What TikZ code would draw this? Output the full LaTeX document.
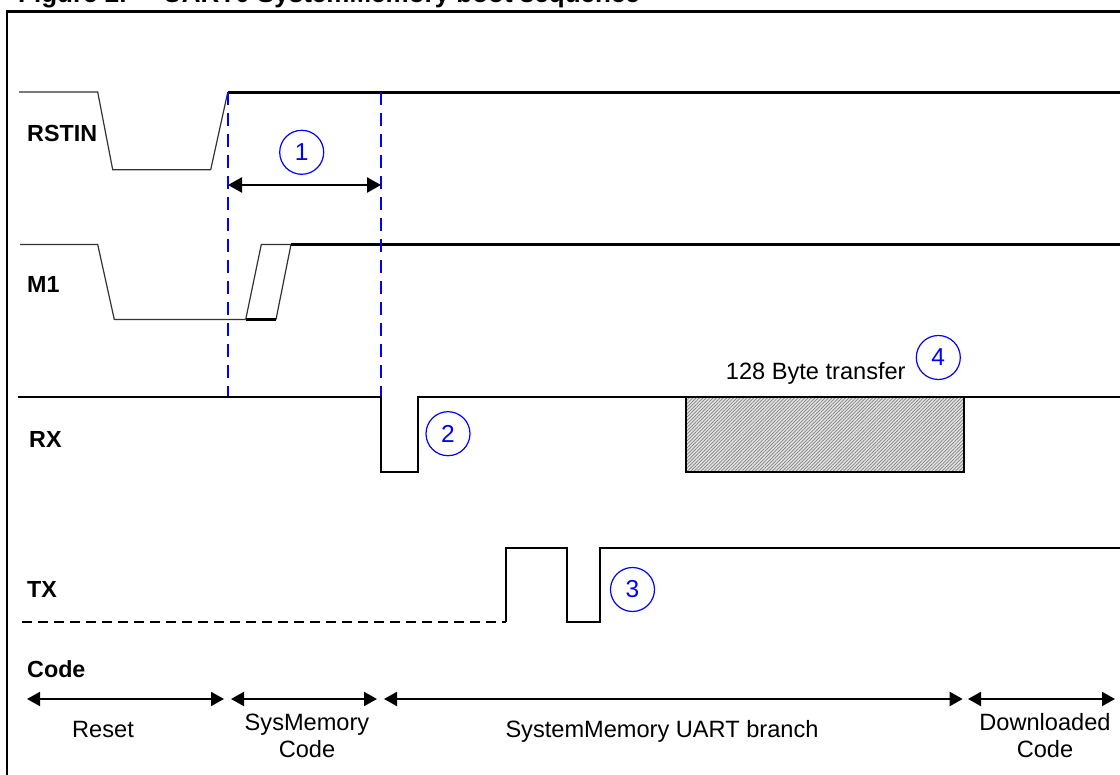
\documentclass[tikz,border=0pt]{standalone}
\usepackage{fontspec}
\setmainfont{Liberation Sans}
\usetikzlibrary{arrows.meta,patterns.meta}
\begin{document}
\begin{tikzpicture}[x=1pt,y=-1pt,
  thinw/.style={line width=1.2pt,draw=black!80},
  thickw/.style={line width=2.3pt,draw=black},
  guide/.style={line width=2pt,draw=blue,dash pattern=on 13pt off 8pt},
  numc/.style={circle,draw=blue,line width=1.2pt,minimum size=44pt,inner sep=0pt,text=blue,font=\fontsize{24.5}{28}\selectfont},
  siglabel/.style={anchor=base west,font=\fontsize{23.3}{28}\selectfont\bfseries,inner sep=0pt},
  txt/.style={font=\fontsize{23.6}{26.6}\selectfont,inner sep=0pt},
  span/.style={line width=2pt,{Triangle[length=13pt,width=14pt]}-{Triangle[length=13pt,width=14pt]}},
  dim/.style={line width=2.5pt,{Triangle[length=14pt,width=15pt]}-{Triangle[length=14pt,width=15pt]}}
]
\useasboundingbox (0,0) rectangle (1120,775);
\clip (0,0) rectangle (1120,775);

% title (cut at the top edge, as in the reference)
\node[anchor=base west,inner sep=0pt,font=\fontsize{26}{30}\selectfont\bfseries] (title1) at (18,2.5) {Figure 2.};
\node[anchor=base west,inner sep=0pt,font=\fontsize{26}{30}\selectfont\bfseries] (title2) at (163,2.5) {UART0 SystemMemory boot sequence};

% frame
\draw[line width=2.5pt] (7,800) -- (7,11.5) -- (1140,11.5);

% signal labels
\node[siglabel] (lrst) at (27,141.7) {RSTIN};
\node[siglabel] (lm1) at (27,292.7) {M1};
\node[siglabel] (lrx) at (29,448) {RX};
\node[siglabel] (ltx) at (27,597) {TX};
\node[siglabel] (lcode) at (27,677) {Code};

% RSTIN
\draw[thinw] (19,92) -- (97.7,92) -- (112.7,169.7) -- (210.7,169.7) -- (227.7,92.5);
\draw[thickw] (227.7,92.5) -- (1140,92.5);

% M1
\draw[thinw] (20,244.5) -- (97.7,244.5) -- (114.3,319.5) -- (245.7,319.5);
\draw[thinw] (245.7,319.5) -- (261.3,244.5) -- (291,244.5);
\draw[thinw] (276,319.5) -- (291,244.5);
\draw[thickw] (245.7,319.5) -- (276,319.5);
\draw[thickw] (291,244.5) -- (1140,244.5);

% blue guides
\coordinate (g1t) at (228,92);
\coordinate (g1b) at (228,397);
\coordinate (g2t) at (381,92);
\coordinate (g2b) at (381,397);
\draw[guide] (g1t) -- (g1b);
\draw[guide] (g2t) -- (g2b);

% interval 1
\coordinate (d1a) at (228,185);
\coordinate (d1b) at (381,185);
\draw[dim] (d1a) -- (d1b);
\node[numc] (c1) at (301.7,152.3) {1};

% RX
\fill[gray!22] (686,397) rectangle (964,471.7);
\path[pattern={Lines[angle=45,distance=2.4pt,line width=0.7pt]},pattern color=gray] (686,397) rectangle (964,471.7);
\draw[thickw] (686,397) rectangle (964,471.7);
\draw[thickw] (18,397) -- (381,397) -- (381,471.7) -- (418,471.7) -- (418,397) -- (1140,397);
\node[numc] (c2) at (448,433.7) {2};
\node[txt,anchor=base west] (xfer) at (725.7,380) {128 Byte transfer};
\node[numc] (c4) at (938.3,357.5) {4};

% TX
\draw[line width=2pt,dash pattern=on 10pt off 6pt] (22,622) -- (506,622);
\draw[thickw] (506,622) -- (506,548.3) -- (567.3,548.3) -- (567.3,622) -- (600,622) -- (600,548.3) -- (1140,548.3);
\node[numc] (c3) at (632.5,589.5) {3};

% code spans
\coordinate (s1a) at (27,699);   \coordinate (s1b) at (224,699);
\coordinate (s2a) at (231,699);  \coordinate (s2b) at (377,699);
\coordinate (s3a) at (384,699);  \coordinate (s3b) at (962.7,699);
\coordinate (s4a) at (968,699);  \coordinate (s4b) at (1115,699);
\draw[span] (s1a) -- (s1b);
\draw[span] (s2a) -- (s2b);
\draw[span] (s3a) -- (s3b);
\draw[span] (s4a) -- (s4b);
\node[txt,anchor=base] (treset) at (103,737) {Reset};
\node[txt,anchor=base,align=center] (tsys) at (307,757.5) {SysMemory\\Code};
\node[txt,anchor=base] (tuart) at (662,737) {SystemMemory UART branch};
\node[txt,anchor=base,align=center] (tdl) at (1045,757) {Downloaded\\Code};
\end{tikzpicture}
\end{document}
